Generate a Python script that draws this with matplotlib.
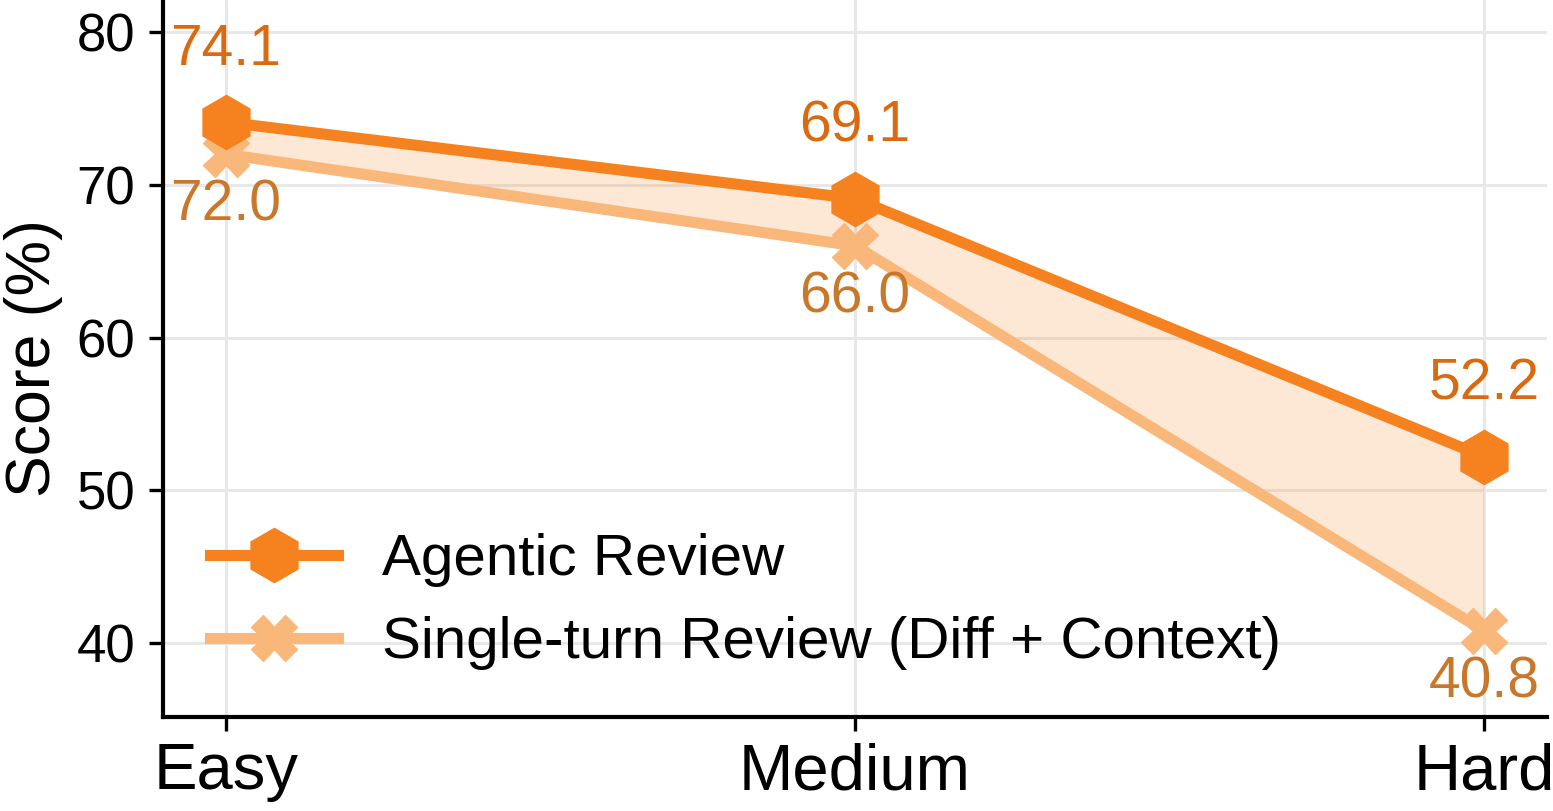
import matplotlib
matplotlib.use("Agg")
import matplotlib.pyplot as plt

# Data
levels = ["Easy", "Medium", "Hard"]
agentic = [74.1, 69.1, 52.2]
single_turn = [72.0, 66.0, 40.8]

plt.rcParams['font.family'] = ['Liberation Sans', 'DejaVu Sans']

c_agent = '#F5821F'
c_single = '#F9B87A'
c_agent_txt = '#D96A10'
c_single_txt = '#C9782B'

fig = plt.figure(figsize=(15.53, 8.11), dpi=100)
ax = fig.add_axes([0.105, 0.1159, 0.891, 0.8841])

x = list(range(len(levels)))

ax.fill_between(x, single_turn, agentic, color=c_agent, alpha=0.18, linewidth=0, zorder=1)
ax.plot(x, agentic, color=c_agent, lw=8, marker='h', ms=39, label='Agentic Review', zorder=3)
ax.plot(x, single_turn, color=c_single, lw=8, marker='X', ms=33,
        label='Single-turn Review (Diff + Context)', zorder=2)

for xi, v in zip(x, agentic):
    ax.annotate(f"{v:.1f}", (xi, v), xytext=(0, 52), textcoords='offset points',
                ha='center', va='center', fontsize=41, color=c_agent_txt)
for xi, v in zip(x, single_turn):
    ax.annotate(f"{v:.1f}", (xi, v), xytext=(0, -37), textcoords='offset points',
                ha='center', va='center', fontsize=41, color=c_single_txt)

ax.set_xlim(-0.1, 2.1)
ax.set_ylim(35.15, 82.1)
ax.set_yticks([40, 50, 60, 70, 80])
ax.set_xticks(x)
ax.set_xticklabels(levels)
ax.set_ylabel("Score (%)", fontsize=45, labelpad=10)

ax.tick_params(axis='y', labelsize=38, length=10, width=2.4, pad=10)
ax.tick_params(axis='x', labelsize=47, length=10, width=2.4, pad=8)

for s in ['top', 'right']:
    ax.spines[s].set_visible(False)
for s in ['left', 'bottom']:
    ax.spines[s].set_linewidth(3)

ax.grid(True, color='#E8E8E8', lw=2.2, zorder=0)
ax.set_axisbelow(True)

ax.legend(loc='lower left', frameon=False, fontsize=42, handlelength=2.2,
          handletextpad=0.75, borderaxespad=0.4, bbox_to_anchor=(0.0, 0.0),
          labelspacing=0.5)

fig.savefig("out.png", dpi=100)
